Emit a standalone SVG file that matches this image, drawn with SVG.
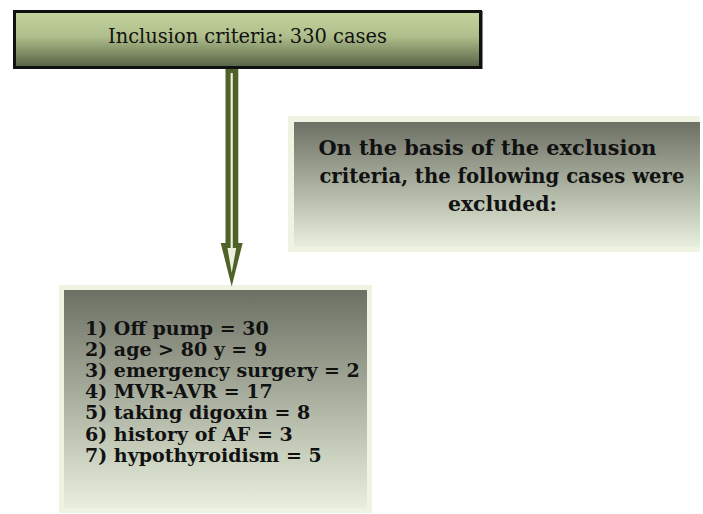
<svg xmlns="http://www.w3.org/2000/svg" width="703" height="514" viewBox="0 0 703 514">
  <defs>
    <linearGradient id="gTop" x1="0" y1="0" x2="0" y2="1">
      <stop offset="0" stop-color="#c6d69f"/>
      <stop offset="0.45" stop-color="#aebd8a"/>
      <stop offset="1" stop-color="#566145"/>
    </linearGradient>
    <linearGradient id="gGrey" x1="0" y1="0" x2="0" y2="1">
      <stop offset="0" stop-color="#6c7064"/>
      <stop offset="0.5" stop-color="#aab09f"/>
      <stop offset="1" stop-color="#e8efdc"/>
    </linearGradient>
    <style>
      .frame { fill: #eef3e2; }
      .head { font-family: "DejaVu Serif", "Liberation Serif", serif; font-size: 20.5px; fill: #111; }
      .bold { font-family: "DejaVu Serif", "Liberation Serif", serif; font-weight: bold; fill: #111; }
    </style>
  </defs>

  <g id="node-inclusion">
    <rect x="14.5" y="11.5" width="466" height="56" fill="url(#gTop)" stroke="#111" stroke-width="3"/>
    <line x1="482.5" y1="11" x2="482.5" y2="69" stroke="#888" stroke-width="1"/>
    <text class="head" x="247.5" y="43" text-anchor="middle" textLength="279" lengthAdjust="spacingAndGlyphs">Inclusion criteria: 330 cases</text>
  </g>

  <g id="node-exclusion-note">
    <rect class="frame" x="288" y="116" width="412" height="136"/>
    <rect x="294" y="122" width="406" height="125" fill="url(#gGrey)"/>
    <text class="bold" font-size="20.5" text-anchor="middle">
      <tspan x="491" y="155" textLength="338" lengthAdjust="spacingAndGlyphs">On the basis of the exclusion</tspan>
      <tspan x="505.5" y="183" textLength="365" lengthAdjust="spacingAndGlyphs">criteria, the following cases were</tspan>
      <tspan x="502.5" y="211" textLength="109" lengthAdjust="spacingAndGlyphs">excluded:</tspan>
    </text>
  </g>

  <g id="node-exclusion-list">
    <rect class="frame" x="59" y="285" width="313" height="228"/>
    <rect x="64" y="290" width="303" height="218" fill="url(#gGrey)"/>
    <text class="bold" font-size="19">
      <tspan x="85" y="334.5">1) Off pump = 30</tspan>
      <tspan x="85" y="355.7">2) age &gt; 80 y = 9</tspan>
      <tspan x="85" y="376.9">3) emergency surgery = 2</tspan>
      <tspan x="85" y="398.1">4) MVR-AVR = 17</tspan>
      <tspan x="85" y="419.3">5) taking digoxin = 8</tspan>
      <tspan x="85" y="440.5">6) history of AF = 3</tspan>
      <tspan x="85" y="461.7">7) hypothyroidism = 5</tspan>
    </text>
  </g>

  <g id="connectors">
    <path d="M225.5 69 H238.3 V243 H242.7 L231.7 286.5 L220.7 243 H225.5 Z" fill="#4f6228"/>
    <path d="M230.6 73 H232.8 V248 H236.2 L231.7 273 L227.5 248 H230.6 Z" fill="#ebf1de"/>
  </g>
</svg>
